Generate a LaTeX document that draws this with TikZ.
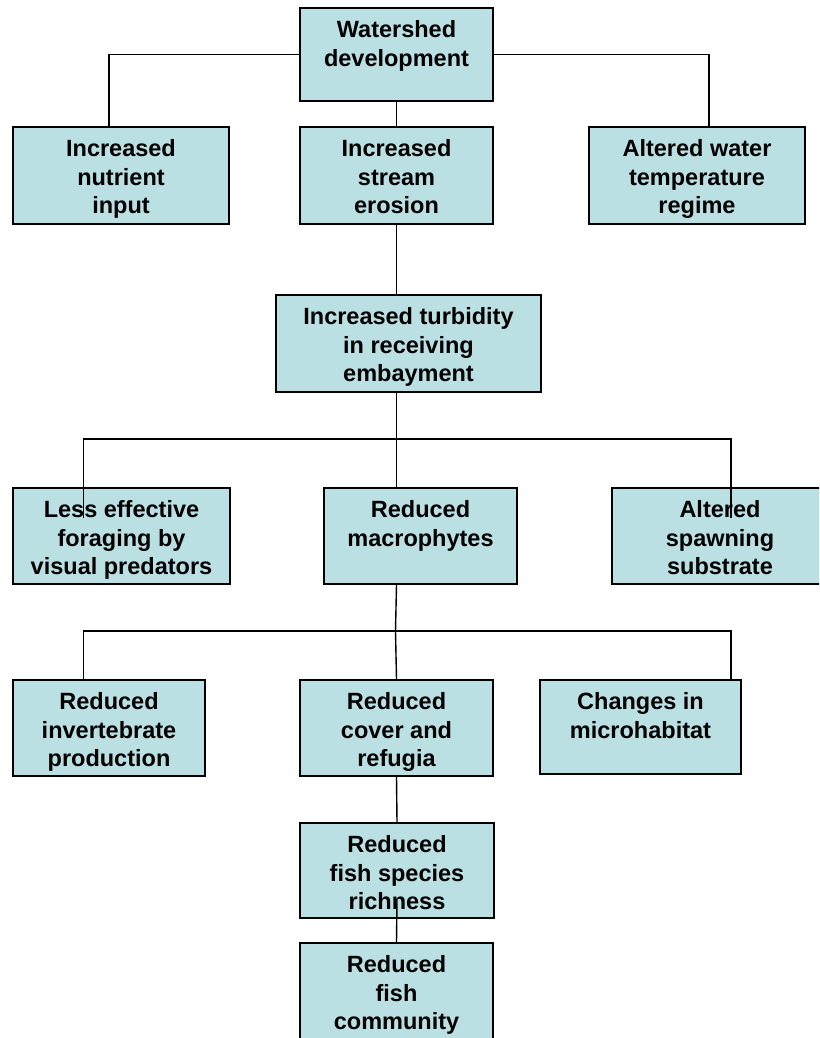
\documentclass[tikz,border=0pt]{standalone}
\usepackage{fontspec}
\setmainfont{Liberation Sans}
\definecolor{boxfill}{HTML}{BBE0E3}
\tikzset{
  box/.style={draw=black, line width=2pt, fill=boxfill, inner sep=0pt, anchor=north west},
  txt/.style={inner sep=0pt, align=center, anchor=north, font=\fontsize{23.5}{28.5}\selectfont\bfseries},
  conn/.style={draw=black, line width=1.4pt}
}
\newcommand{\mkbox}[6]{%
  \pgfmathsetmacro{\bw}{#4-#2}\pgfmathsetmacro{\bh}{#5-#3}%
  \node[box, minimum width=\bw pt, minimum height=\bh pt] (#1) at (#2,#3) {};
  \node[txt] (#1-t) at ([yshift=-10.5pt]#1.north) {\strut #6};
}
\begin{document}
\begin{tikzpicture}[x=1pt,y=-1pt]
\useasboundingbox (0,0) rectangle (819,1038);
\clip (0,0) rectangle (819,1038);
\mkbox{ws}{299}{7}{492}{100}{Watershed\\development}
\mkbox{nut}{12}{126}{228}{223}{Increased\\nutrient\\input}
\mkbox{ero}{299}{126}{492}{223}{Increased\\stream\\erosion}
\mkbox{alt}{588}{126}{804}{223}{Altered water\\temperature\\regime}
\mkbox{tur}{275}{294}{540}{391}{Increased turbidity\\in receiving\\embayment}
\mkbox{le}{12}{487}{229}{583}{Less effective\\foraging by\\visual predators}
\mkbox{mac}{323}{487}{516}{583}{Reduced\\macrophytes}
\mkbox{spw}{611}{487}{827}{583}{Altered\\spawning\\substrate}
\mkbox{inv}{12}{679}{204}{775}{Reduced\\invertebrate\\production}
\mkbox{cov}{299}{679}{492}{775}{Reduced\\cover and\\refugia}
\mkbox{chg}{539}{679}{740}{773}{Changes in\\microhabitat}
\mkbox{ric}{299}{822}{493}{917}{Reduced\\fish species\\richness}
\mkbox{com}{299}{942}{492}{1060}{Reduced\\fish\\community}
\coordinate (h1) at (395.5,439);
\coordinate (a1) at (83.5,518);
\coordinate (a2) at (731,518);
\coordinate (h2) at (395.5,631);
\draw[conn] (ws.west) -| ([xshift=-12pt]nut.north);
\draw[conn] (ws.east) -| ([xshift=12pt]alt.north);
\draw[conn] (ws.south) -- (ero.north);
\draw[conn] (ero.south) -- (ero.south |- tur.north);
\draw[conn] (tur.south -| ero.south) -- (ero.south |- mac.north);
\draw[conn] (a1) |- (h1) -| (a2);
\draw[conn] (mac.south -| ero.south) -- (h2);
\draw[conn] (inv.north -| a1) |- (h2) -| (chg.north -| a2);
\draw[conn] (h2) -- (cov.north);
\draw[conn] (cov.south) -- (ric.north);
\draw[conn] ([yshift=19pt]ric.south) -- (com.north);
\end{tikzpicture}
\end{document}
